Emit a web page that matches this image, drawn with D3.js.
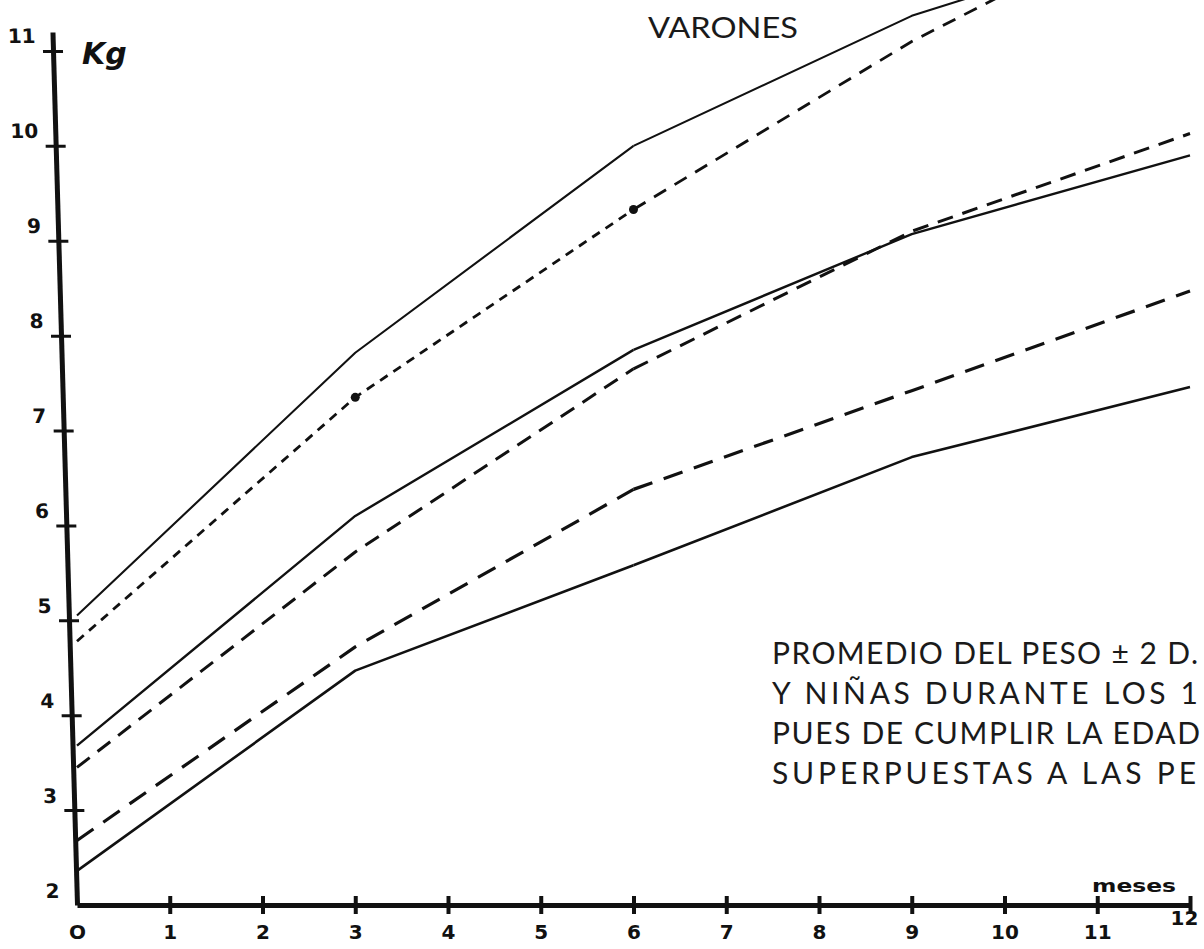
<!DOCTYPE html>
<html>
<head>
<meta charset="utf-8">
<script src="https://cdnjs.cloudflare.com/ajax/libs/d3/7.8.5/d3.min.js"></script>
<style>
  html, body { margin: 0; padding: 0; background: #fff; overflow: hidden; }
  svg { display: block; }
</style>
</head>
<body>
<svg id="chart" width="1204" height="949"></svg>
<script>
// ---- data ----
const months = [0, 3, 6, 9, 12];
const topSolid  = [5.05, 7.82, 10.0, 11.37, 12.3];
const topDashed = [4.78, 7.35, 9.33, 11.1, 12.6];
const midSolid  = [3.68, 6.1, 7.85, 9.07, 9.9];
const midDashed = [3.45, 5.72, 7.65, 9.1, 10.13];
const lowDashed = [2.68, 4.72, 6.38, 7.42, 8.47];
const lowSolid  = [2.36, 4.47, 5.58, 6.72, 7.46];
const dotMonthsTopDashed = [3, 6];

const xTickValues = [0, 1, 2, 3, 4, 5, 6, 7, 8, 9, 10, 11, 12];
const yTickValues = [2, 3, 4, 5, 6, 7, 8, 9, 10, 11];
const yUnit = "Kg";
const xUnit = "meses";
const title = "VARONES";
const noteLines = [
  "PROMEDIO DEL PESO \u00B1 2 D.",
  "Y  NI\u00D1AS  DURANTE  LOS  1",
  "PUES DE CUMPLIR LA EDAD",
  "SUPERPUESTAS  A  LAS  PE"
];

// ---- layout ----
const svg = d3.select("#chart");
const x0 = 77, x1 = 1190, yBottom = 905;
const x = d3.scaleLinear().domain([0, 12]).range([x0, x1]);
const y = d3.scaleLinear().domain([2, 11.2]).range([yBottom, 32]);
const ink = "#111";

// ---- series ----
// each series may be split in two pieces (months 0-6 and 6-12) with its own dash
const seriesDefs = [
  { vals: topSolid,  dashA: null,      dashB: null,    w: 2.1 },
  { vals: topDashed, dashA: "9,7",     dashB: "14,10", w: 2.8 },
  { vals: midSolid,  dashA: null,      dashB: null,    w: 2.4 },
  { vals: midDashed, dashA: "16,10",   dashB: "16,10", w: 3.0 },
  { vals: lowDashed, dashA: "20,12",   dashB: "20,12", w: 3.2 },
  { vals: lowSolid,  dashA: null,      dashB: null,    w: 2.6 }
];
const line = d3.line().x(d => x(d[0])).y(d => y(d[1]));
seriesDefs.forEach(s => {
  const pts = months.map((m, i) => [m, s.vals[i]]);
  const pieces = [
    { data: pts.filter(p => p[0] <= 6), dash: s.dashA },
    { data: pts.filter(p => p[0] >= 6), dash: s.dashB }
  ];
  pieces.forEach(pc => {
    svg.append("path")
      .datum(pc.data)
      .attr("d", line)
      .attr("fill", "none")
      .attr("stroke", ink)
      .attr("stroke-width", s.w)
      .attr("stroke-linejoin", "round")
      .attr("stroke-dasharray", pc.dash);
  });
});
svg.selectAll("circle.dot")
  .data(dotMonthsTopDashed.map(m => [m, topDashed[months.indexOf(m)]]))
  .enter().append("circle")
  .attr("cx", d => x(d[0])).attr("cy", d => y(d[1]))
  .attr("r", 4.5).attr("fill", ink);

// ---- x axis ----
const gx = svg.append("g").attr("transform", `translate(0,${yBottom})`)
  .call(d3.axisBottom(x).tickValues(xTickValues).tickSize(0).tickSizeOuter(0).tickPadding(30)
    .tickFormat(d => d === 0 ? "O" : d));
gx.select(".domain").attr("stroke", ink).attr("stroke-width", 5);
gx.selectAll(".tick line").attr("stroke", ink).attr("stroke-width", 4)
  .attr("y1", -9).attr("y2", 9);
gx.selectAll(".tick text")
  .attr("font-family", "DejaVu Sans, sans-serif").attr("font-weight", "bold")
  .attr("font-size", 20).attr("fill", ink)
  .attr("dy", (d) => d === 12 ? "-0.5em" : "0.2em")
  .attr("dx", (d) => d === 12 ? -6 : 0);
gx.selectAll(".tick").filter(d => d === 0).select("line").remove();

// ---- y axis (hand-drawn, slightly slanted) ----
const yRel = d3.scaleLinear().domain(y.domain()).range([0, y.range()[1] - yBottom]);
const gy = svg.append("g").attr("transform", `translate(${x0},${yBottom}) skewX(1.61)`)
  .call(d3.axisLeft(yRel).tickValues(yTickValues).tickSize(0).tickSizeOuter(0).tickPadding(17));
gy.select(".domain").attr("stroke", ink).attr("stroke-width", 5);
gy.selectAll(".tick line").attr("stroke", ink).attr("stroke-width", 3)
  .attr("x1", -10).attr("x2", 10);
gy.selectAll(".tick").filter(d => d === 2).select("line").remove();
gy.selectAll(".tick text")
  .attr("font-family", "DejaVu Sans, sans-serif").attr("font-weight", "bold")
  .attr("font-size", 20).attr("fill", ink)
  .attr("dy", "-0.4em");

// ---- unit labels ----
svg.append("text").attr("x", 82).attr("y", 64).text(yUnit)
  .attr("font-family", "DejaVu Sans, sans-serif").attr("font-weight", "bold")
  .attr("font-size", 30).attr("fill", ink).attr("font-style", "italic");
svg.append("text").attr("x", 1092).attr("y", 892).text(xUnit)
  .attr("font-family", "DejaVu Sans, sans-serif").attr("font-weight", "bold")
  .attr("font-size", 17).attr("fill", ink)
  .attr("textLength", 84).attr("lengthAdjust", "spacingAndGlyphs");

// ---- title ----
svg.append("text").attr("x", 648).attr("y", 38).text(title)
  .attr("font-family", "Lato, sans-serif").attr("font-size", 29).attr("fill", "#1a1a1a")
  .attr("textLength", 150).attr("lengthAdjust", "spacingAndGlyphs");

// ---- note ----
const noteEnds = [1198, 1198, 1200, 1196];
svg.append("g").selectAll("text").data(noteLines).enter().append("text")
  .attr("x", 772)
  .attr("y", (d, i) => 664 + i * 40)
  .text(d => d)
  .attr("font-family", "Lato, sans-serif").attr("font-size", 30).attr("fill", "#1a1a1a")
  .attr("textLength", (d, i) => noteEnds[i] - 772)
  .attr("lengthAdjust", "spacing");
</script>
</body>
</html>
